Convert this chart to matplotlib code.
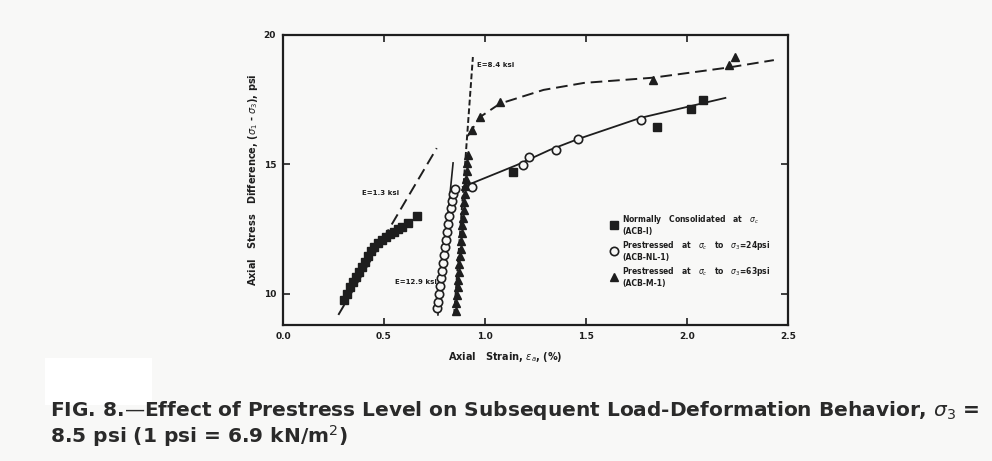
import matplotlib
matplotlib.use("Agg")
import matplotlib.pyplot as plt
from matplotlib.lines import Line2D
from matplotlib.patches import Rectangle

plt.rcParams['font.family'] = ['DejaVu Sans']
plt.rcParams['mathtext.fontset'] = 'dejavusans'

# ---- data ----
sq_x = [0.30, 0.315, 0.33, 0.345, 0.36, 0.375, 0.39, 0.405, 0.42, 0.435, 0.45, 0.47,
        0.49, 0.51, 0.53, 0.55, 0.57, 0.59, 0.62, 0.665, 1.14, 1.85, 2.02, 2.08]
sq_y = [9.77, 10.0, 10.25, 10.45, 10.65, 10.85, 11.05, 11.25, 11.45, 11.65, 11.8, 11.95,
        12.1, 12.2, 12.3, 12.4, 12.5, 12.6, 12.72, 13.0, 14.71, 16.45, 17.14, 17.49]

circ_x = [0.76, 0.765, 0.77, 0.775, 0.78, 0.785, 0.79, 0.795, 0.80, 0.805, 0.81, 0.815,
          0.82, 0.83, 0.835, 0.84, 0.85, 0.936, 1.19, 1.22, 1.35, 1.46, 1.77]
circ_y = [9.45, 9.7, 10.0, 10.3, 10.6, 10.9, 11.2, 11.5, 11.8, 12.1, 12.4, 12.7,
          13.0, 13.3, 13.6, 13.85, 14.05, 14.13, 14.98, 15.29, 15.56, 15.98, 16.72]

tri_x = [0.855, 0.858, 0.861, 0.864, 0.867, 0.870, 0.873, 0.876, 0.879, 0.882, 0.885,
         0.888, 0.891, 0.894, 0.897, 0.900, 0.903, 0.906, 0.909, 0.912, 0.916, 0.936,
         0.975, 1.074, 1.83, 2.21, 2.24]
tri_y = [9.35, 9.65, 9.95, 10.25, 10.55, 10.85, 11.15, 11.45, 11.75, 12.05, 12.35,
         12.65, 12.95, 13.25, 13.55, 13.85, 14.15, 14.45, 14.75, 15.05, 15.35, 16.33,
         16.83, 17.41, 18.26, 18.84, 19.15]

# fitted curves
solid_curve_x = [0.89, 0.975, 1.158, 1.32, 1.46, 1.77, 2.19]
solid_curve_y = [14.13, 14.4, 14.98, 15.56, 15.98, 16.8, 17.57]
dash_curve_x = [0.915, 0.975, 1.074, 1.29, 1.49, 1.83, 2.21, 2.43]
dash_curve_y = [16.1, 16.83, 17.35, 17.88, 18.15, 18.35, 18.75, 19.03]

# modulus lines
e13_x = [0.274, 0.761]
e13_y = [9.19, 15.63]
e129_x = [0.767, 0.842]
e129_y = [9.19, 15.06]
e84_x = [0.847, 0.94]
e84_y = [9.19, 19.15]

x_ticks = [0.0, 0.5, 1.0, 1.5, 2.0, 2.5]
x_labels = ['0.0', '0.5', '1.0', '1.5', '2.0', '2.5']
y_ticks = [10, 15, 20]
y_labels = ['10', '15', '20']

legend_labels = [
    'Normally   Consolidated   at   $\\sigma_c$\n(ACB-I)',
    'Prestressed   at   $\\sigma_c$   to   $\\sigma_3$=24psi\n(ACB-NL-1)',
    'Prestressed   at   $\\sigma_c$   to   $\\sigma_3$=63psi\n(ACB-M-1)',
]

ink = '#1e1e1e'
bg = '#f8f8f7'

fig = plt.figure(figsize=(9.92, 4.61), dpi=100, facecolor=bg)
ax = fig.add_axes([283/992, 1-325/461, 505/992, 290/461])
ax.set_facecolor(bg)
ax.set_xlim(0.0, 2.5)
ax.set_ylim(8.8, 20.0)

for s in ax.spines.values():
    s.set_color(ink)
    s.set_linewidth(1.6)

ax.plot(e13_x, e13_y, color=ink, lw=1.4, dashes=(6, 3))
ax.plot(e129_x, e129_y, color=ink, lw=1.2)
ax.plot(e84_x, e84_y, color=ink, lw=1.4, dashes=(3, 1.5))
ax.plot(solid_curve_x, solid_curve_y, color=ink, lw=1.3)
ax.plot(dash_curve_x, dash_curve_y, color=ink, lw=1.4, dashes=(6, 3))

ax.plot(sq_x, sq_y, linestyle='none', marker='s', ms=5.5, color=ink)
ax.plot(circ_x, circ_y, linestyle='none', marker='o', ms=6, mfc=bg, mec=ink, mew=1.2)
ax.plot(tri_x, tri_y, linestyle='none', marker='^', ms=5.5, color=ink)

txt = dict(fontsize=5, fontweight='bold', color=ink)
ax.text(0.39, 13.9, 'E=1.3 ksi', va='center', ha='left', **txt)
ax.text(0.555, 10.46, 'E=12.9 ksi', va='center', ha='left', **txt)
ax.text(0.96, 18.84, 'E=8.4 ksi', va='center', ha='left', **txt)

ax.set_xticks(x_ticks)
ax.set_xticklabels(x_labels)
ax.set_yticks(y_ticks)
ax.set_yticklabels(y_labels)
ax.tick_params(axis='both', direction='in', length=5, width=1.2, color=ink,
               labelsize=6.5, labelcolor=ink, top=True, right=True, pad=5)
for lab in ax.get_xticklabels() + ax.get_yticklabels():
    lab.set_fontweight('bold')

ax.set_xlabel('Axial   Strain, $\\epsilon_a$, (%)', fontsize=7, fontweight='bold',
              color=ink)
ax.xaxis.set_label_coords(0.44, -0.085)
ax.set_ylabel('Axial   Stress   Difference, ($\\sigma_1$ - $\\sigma_3$), psi', fontsize=7,
              fontweight='bold', color=ink)
ax.yaxis.set_label_coords(-0.045, 0.5)

handles = [
    Line2D([], [], linestyle='none', marker='s', ms=5.5, color=ink),
    Line2D([], [], linestyle='none', marker='o', ms=6, mfc=bg, mec=ink, mew=1.2),
    Line2D([], [], linestyle='none', marker='^', ms=5.5, color=ink),
]
leg = ax.legend(handles, legend_labels, loc='upper left', bbox_to_anchor=(0.64, 0.40),
                frameon=False, prop={'size': 5.5, 'weight': 'bold'}, handlelength=1.0,
                handletextpad=0.6, labelspacing=0.35, borderpad=0)
for t in leg.get_texts():
    t.set_color(ink)

fig.patches.append(Rectangle((45/992, 1-405/461), 107/992, 47/461,
                             transform=fig.transFigure, facecolor='white',
                             edgecolor='none', zorder=0))

fig.text(50/992, 1-410/461,
         'FIG. 8.\u2014Effect of Prestress Level on Subsequent Load-Deformation Behavior, $\\sigma_3$ =',
         fontsize=14.5, fontweight='bold', color='#2a2a2a', va='center', ha='left')
fig.text(50/992, 1-436/461, '8.5 psi (1 psi = 6.9 kN/m$^2$)',
         fontsize=14.5, fontweight='bold', color='#2a2a2a', va='center', ha='left')

fig.savefig('out.png', dpi=100, facecolor=bg)
